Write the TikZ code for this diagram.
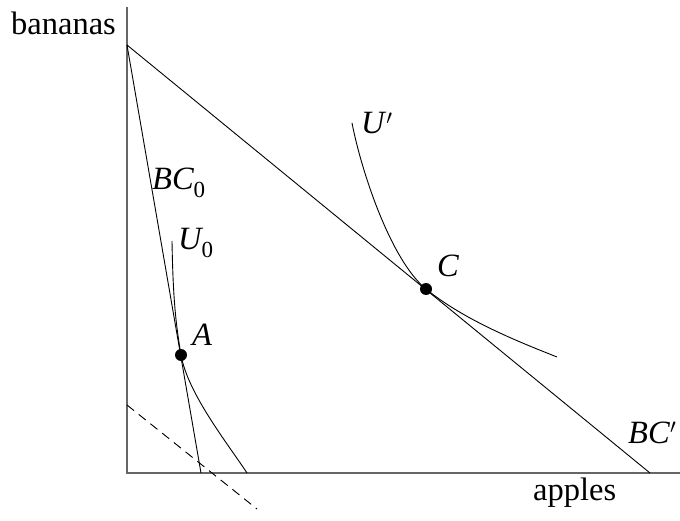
\documentclass[tikz,border=0pt]{standalone}
\usepackage{fontspec}
\setmainfont{Liberation Serif}
\begin{document}
\begin{tikzpicture}[x=1pt,y=-1pt,
  lbl/.style={anchor=base west,inner sep=0pt,font=\fontsize{32.5}{38}\selectfont},
  axisline/.style={draw=gray!80!black,line width=1.4pt},
  curve/.style={draw=black,line width=0.9pt},
  dot/.style={circle,fill=black,inner sep=0pt,minimum size=12pt}]
\useasboundingbox (0,0) rectangle (680,521);
% coordinates
\coordinate (O) at (127,473);
\coordinate (Ytop) at (127,7);
\coordinate (Xend) at (680,473);
\coordinate (Y0) at (127,45);
\coordinate (X0) at (201,473);
\coordinate (X1) at (650,473);
\coordinate (D1) at (127,405);
\coordinate (D2) at (257,509);
\coordinate (U0s) at (172,241);
\coordinate (U0e) at (247,473);
\coordinate (U1s) at (352,123);
\coordinate (U1e) at (557,357);
\node[dot] (A) at (181,355) {};
\node[dot] (C) at (426,289) {};
% axes
\draw[axisline] (Ytop) -- (O) -- (Xend);
% budget lines
\draw[curve] (Y0) -- (X0);
\draw[curve] (Y0) -- (X1);
\draw[curve,dashed,dash pattern=on 9pt off 6pt] (D1) -- (D2);
% indifference curves
\draw[curve] (U0s) .. controls (173,300) and (176,325) .. (A.center)
  .. controls (188,394) and (228,444) .. (U0e);
\draw[curve] (U1s) .. controls (361.5,172) and (391,260.5) .. (C.center)
  .. controls (464.7,320.6) and (519.8,342.2) .. (U1e);
% labels
\node[lbl] (lb) at (11,35) {bananas};
\node[lbl] (la) at (533,500) {apples};
\node[lbl] (lbc0) at (152,190) {\itshape BC\raisebox{-0.22em}{\upshape\fontsize{23}{23}\selectfont 0}};
\node[lbl] (lu0) at (178,250) {\itshape U\raisebox{-0.22em}{\upshape\fontsize{23}{23}\selectfont 0}};
\node[lbl] (lA) at (192,345) {\itshape A};
\node[lbl] (lC) at (437,277) {\itshape C};
\node[lbl] (lu1) at (361,134) {\itshape U\/$'$};
\node[lbl] (lbc1) at (628,443) {\itshape BC\/$'$};
\end{tikzpicture}
\end{document}
